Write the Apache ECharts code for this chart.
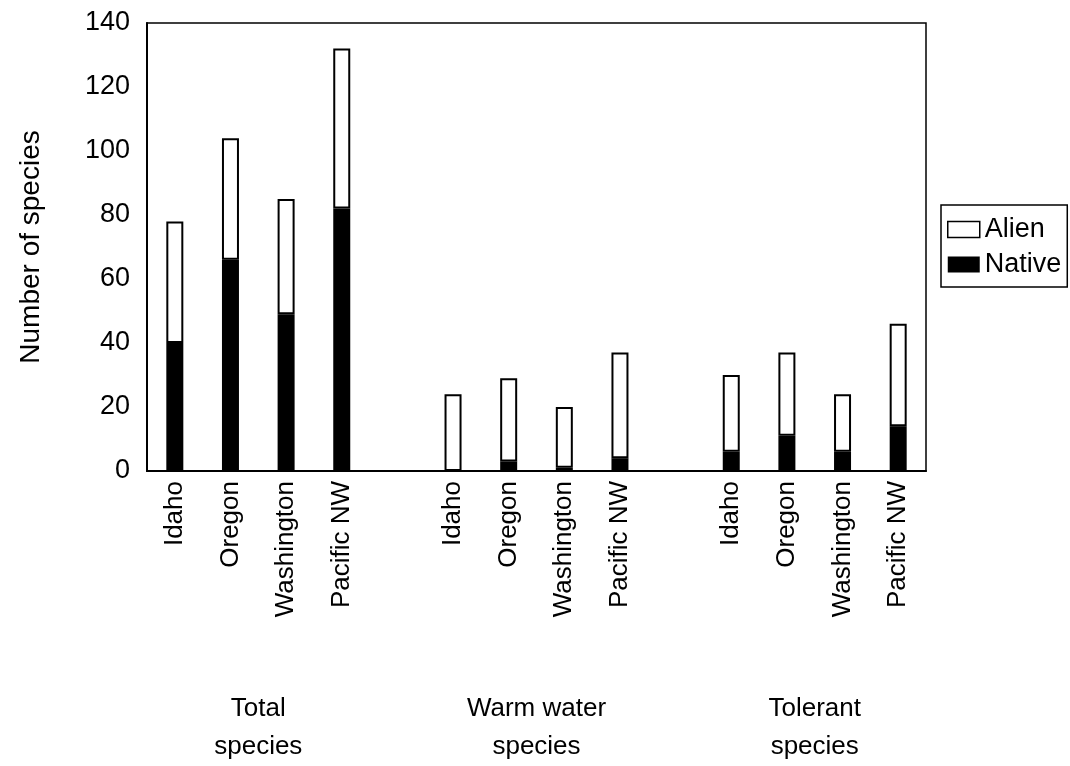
<!DOCTYPE html>
<html>
<head>
<meta charset="utf-8">
<script src="https://cdn.jsdelivr.net/npm/echarts@6/dist/echarts.min.js"></script>
<style>
  html, body { margin: 0; padding: 0; background: #fff; }
  #chart { width: 1070px; height: 766px; }
</style>
</head>
<body>
<div id="chart"></div>
<script>
// regions shown in each group
const states = ['Idaho', 'Oregon', 'Washington', 'Pacific NW'];
const groupNames = ['Total\nspecies', 'Warm water\nspecies', 'Tolerant\nspecies'];

// native / alien counts per group (stacked: native at the bottom)
const nativeTotal = [40, 66, 49, 82];
const alienTotal = [38, 38, 36, 50];
const nativeWarm = [0, 3, 1, 4];
const alienWarm = [24, 26, 19, 33];
const nativeTolerant = [6, 11, 6, 14];
const alienTolerant = [24, 26, 18, 32];

const yTicks = [0, 20, 40, 60, 80, 100, 120, 140];

// one empty slot between groups
const categories = [];
const nativeData = [];
const alienData = [];
[[nativeTotal, alienTotal], [nativeWarm, alienWarm], [nativeTolerant, alienTolerant]].forEach(([nat, ali], g) => {
  if (g > 0) {
    categories.push('');
    nativeData.push('-');
    alienData.push('-');
  }
  states.forEach((s, i) => {
    categories.push(s);
    nativeData.push(nat[i]);
    alienData.push(ali[i]);
  });
});

// group label sits in the middle of its 4 slots on a 0..n value axis
const groupCenters = {};
groupNames.forEach((name, g) => {
  groupCenters[g * (states.length + 1) + states.length / 2] = name;
});

const font = '"Liberation Sans", Arial, sans-serif';
const chart = echarts.init(document.getElementById('chart'));

chart.setOption({
  animation: false,
  backgroundColor: '#fff',
  textStyle: { fontFamily: font, color: '#000' },
  grid: {
    left: 147, right: 144, top: 23, bottom: 294,
    show: true, borderColor: '#000', borderWidth: 1.5
  },
  legend: {
    orient: 'vertical',
    left: 941,
    top: 205,
    data: [
      { name: 'Alien', itemStyle: { color: '#fff', borderColor: '#000', borderWidth: 1.5 } },
      { name: 'Native', itemStyle: { color: '#000' } }
    ],
    icon: 'rect',
    itemWidth: 32,
    itemHeight: 16,
    itemGap: 8,
    padding: [11, 6, 9, 6],
    borderColor: '#000',
    borderWidth: 1.5,
    textStyle: { fontSize: 27, color: '#000', fontFamily: font }
  },
  xAxis: [
    {
      type: 'category',
      data: categories,
      axisLine: { lineStyle: { color: '#000', width: 2 } },
      axisTick: { show: false },
      axisLabel: {
        rotate: 90, interval: 0, margin: 10,
        fontSize: 26, color: '#000', fontFamily: font
      },
      splitLine: { show: false }
    },
    {
      type: 'value',
      min: 0,
      max: categories.length,
      interval: 1,
      position: 'bottom',
      offset: 219,
      axisLine: { show: false },
      axisTick: { show: false },
      splitLine: { show: false },
      axisLabel: {
        margin: 0,
        fontSize: 26, lineHeight: 38, color: '#000', fontFamily: font,
        formatter: v => groupCenters[v] || ''
      }
    }
  ],
  yAxis: {
    type: 'value',
    min: yTicks[0],
    max: yTicks[yTicks.length - 1],
    interval: yTicks[1] - yTicks[0],
    name: 'Number of species',
    nameLocation: 'middle',
    nameRotate: 90,
    nameGap: 102,
    nameTextStyle: { fontSize: 28, color: '#000', fontFamily: font },
    axisLine: { show: true, lineStyle: { color: '#000', width: 2 } },
    axisTick: { show: false },
    axisLabel: { margin: 17, fontSize: 27, color: '#000', fontFamily: font },
    splitLine: { show: false }
  },
  series: [
    {
      name: 'Native',
      type: 'bar',
      stack: 'n',
      xAxisIndex: 0,
      barWidth: 17,
      data: nativeData,
      itemStyle: { color: '#000' }
    },
    {
      name: 'Alien',
      type: 'bar',
      stack: 'n',
      xAxisIndex: 0,
      barWidth: 17,
      data: alienData,
      itemStyle: { color: '#fff', borderColor: '#000', borderWidth: 2 }
    }
  ]
});
</script>
</body>
</html>
